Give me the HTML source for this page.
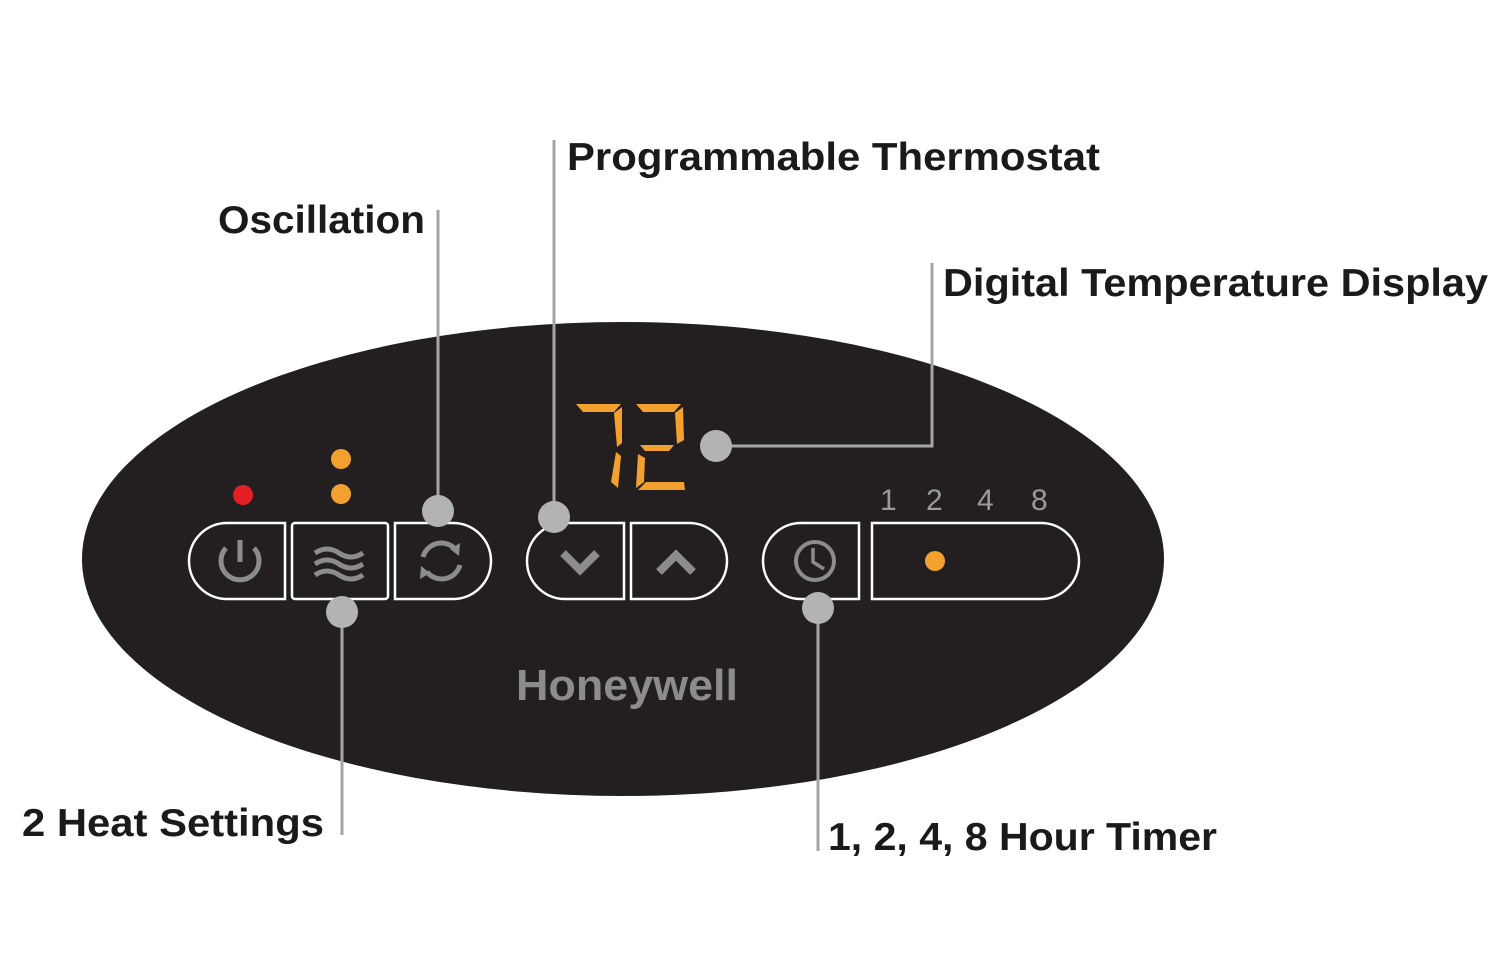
<!DOCTYPE html>
<html><head><meta charset="utf-8"><style>
html,body{margin:0;padding:0;background:#fff;}
svg{display:block;}
.lbl{font-family:"Liberation Sans",sans-serif;font-weight:bold;font-size:39px;fill:#1a1a1a;}
</style></head><body>
<svg width="1500" height="958" viewBox="0 0 1500 958" xmlns="http://www.w3.org/2000/svg">
<rect width="1500" height="958" fill="#fff"/>
<ellipse cx="623" cy="559" rx="541" ry="237" fill="#231f20"/>
<g fill="none" stroke="#fff" stroke-width="2.5">
<path d="M227 523 H285 V599 H227 A38 38 0 0 1 227 523 Z"/>
<rect x="292" y="523" width="96" height="76" rx="3"/>
<path d="M395 523 H453 A38 38 0 0 1 453 599 H395 Z"/>
<path d="M565 523 H624 V599 H565 A38 38 0 0 1 565 523 Z"/>
<path d="M631 523 H689 A38 38 0 0 1 689 599 H631 Z"/>
<path d="M801 523 H859 V599 H801 A38 38 0 0 1 801 523 Z"/>
<path d="M872 523 H1041 A38 38 0 0 1 1041 599 H872 Z"/>
</g>
<g fill="none" stroke="#8c8c8c" stroke-width="5">
<path d="M226 548 A19 19 0 1 0 254 548"/>
<line x1="240" y1="540" x2="240" y2="562"/>
<path d="M315 553 q12-8 24 0 t24 0"/><path d="M315 564 q12-8 24 0 t24 0"/><path d="M315 575 q12-8 24 0 t24 0"/>
<path d="M423 557 A19 19 0 0 1 456 550"/><path d="M460 565 A19 19 0 0 1 427 572"/>
<circle cx="815" cy="561" r="19" stroke-width="4"/>
<path d="M813 548 V562 L824 569" stroke-width="3.5"/>
<path d="M563 553 L580 570 L597 553" stroke-width="8"/>
<path d="M659 572 L676 555 L693 572" stroke-width="8"/>
</g>
<path d="M450 549 L460 543 L459 556 Z M430 573 L420 579 L421 566 Z" fill="#8c8c8c"/>
<circle cx="243" cy="495" r="10" fill="#e31e25"/>
<circle cx="341" cy="459" r="10" fill="#f2a12e"/>
<circle cx="341" cy="494" r="10" fill="#f2a12e"/>
<circle cx="935" cy="561" r="10" fill="#f2a12e"/>
<g font-family="Liberation Sans,sans-serif" font-size="30" fill="#9a9a9a">
<text x="880" y="510">1</text><text x="926" y="510">2</text><text x="977" y="510">4</text><text x="1031" y="510">8</text>
</g>
<g fill="#f2a12e">
<path d="M576 404 H621 L614 412 H583 Z"/>
<path d="M622 407 L622 443 L617 447 L614 413 Z"/>
<path d="M616 452 L621 456 L618 488 L611 482 Z"/>
<path d="M636 404 H681 L674 412 H643 Z"/>
<path d="M683 407 L684 440 L677 444 L675 413 Z"/>
<path d="M640 445 H674 L669 451 H645 Z"/>
<path d="M638 454 L645 458 L644 482 L636 488 Z"/>
<path d="M646 482 H684 L685 490 H638 Z"/>
</g>
<text x="516" y="700" font-family="Liberation Sans,sans-serif" font-weight="bold" font-size="44" fill="#8c8c8c" textLength="222" lengthAdjust="spacingAndGlyphs">Honeywell</text>
<g stroke="#a6a6a6" stroke-width="3" fill="none">
<line x1="438" y1="210" x2="438" y2="511"/>
<line x1="554" y1="140" x2="554" y2="517"/>
<path d="M932 263 V446 H716"/>
<line x1="342" y1="612" x2="342" y2="835"/>
<line x1="818" y1="608" x2="818" y2="851"/>
</g>
<g fill="#b3b3b3">
<circle cx="438" cy="511" r="16"/><circle cx="554" cy="517" r="16"/><circle cx="716" cy="446" r="16"/>
<circle cx="342" cy="612" r="16"/><circle cx="818" cy="608" r="16"/>
</g>
<text class="lbl" x="567" y="170" textLength="533" lengthAdjust="spacingAndGlyphs">Programmable Thermostat</text>
<text class="lbl" x="218" y="233" textLength="207" lengthAdjust="spacingAndGlyphs">Oscillation</text>
<text class="lbl" x="943" y="296" textLength="545" lengthAdjust="spacingAndGlyphs">Digital Temperature Display</text>
<text class="lbl" x="22" y="836" textLength="302" lengthAdjust="spacingAndGlyphs">2 Heat Settings</text>
<text class="lbl" x="828" y="850" textLength="389" lengthAdjust="spacingAndGlyphs">1, 2, 4, 8 Hour Timer</text>
</svg>
</body></html>
